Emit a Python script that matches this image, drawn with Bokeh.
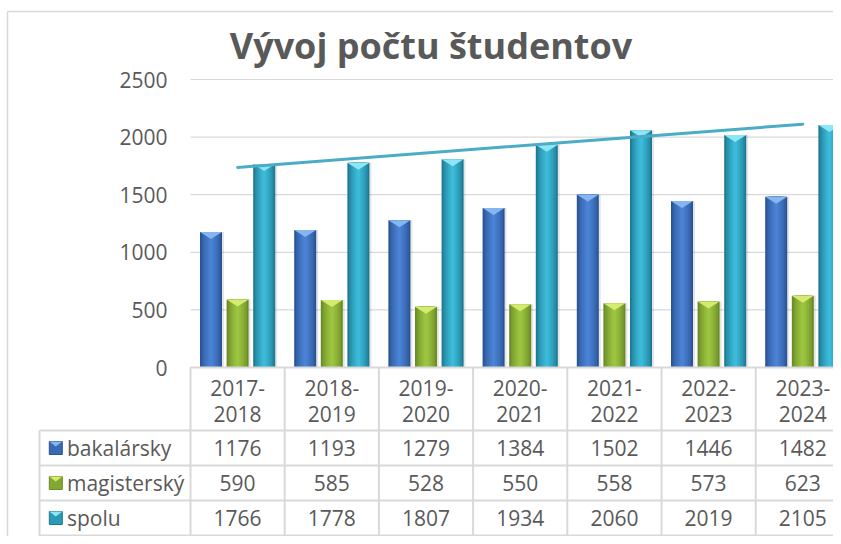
import numpy as np
from bokeh.plotting import figure
from bokeh.models import Range1d
from bokeh.core.properties import value
from bokeh.embed import file_html
from bokeh.resources import INLINE

# ---------------- data ----------------
title_text = "Vývoj počtu študentov"
categories = ["2017-2018", "2018-2019", "2019-2020", "2020-2021",
              "2021-2022", "2022-2023", "2023-2024"]
series_names = ["bakalársky", "magisterský", "spolu"]
bakalarsky = [1176, 1193, 1279, 1384, 1502, 1446, 1482]
magistersky = [590, 585, 528, 550, 558, 573, 623]
spolu = [1766, 1778, 1807, 1934, 2060, 2019, 2105]
y_ticks = [0, 500, 1000, 1500, 2000, 2500]

series_values = [bakalarsky, magistersky, spolu]

# ---------------- styles ----------------
FONT = value("Open Sans")
GREY_TXT = "#595959"
LINE_GREY = "#d9d9d9"
# (edge, center, cap)
palette = [
    ("#2a5394", "#4a82d4", "#86b6ef"),
    ("#6a8a26", "#9cc440", "#d4ea70"),
    ("#1d7892", "#3cbad8", "#8ee6f5"),
]
TREND_COLOR = "#4bacc6"

# ---------------- layout (pixels) ----------------
W, H = 833, 536
CAT_PX = 94.2        # width of one category
X0_PX = 190          # canvas x of the left plot edge (category 0.5)
Y0_PX = 367          # canvas y of value 0
UPP = 2500 / 288     # value units per pixel
BAR_PX = 22
STEP_PX = 26.6

x_start = 0.5 - X0_PX / CAT_PX
x_end = x_start + W / CAT_PX
y_end = Y0_PX * UPP
y_start = -(H - Y0_PX) * UPP

ROW_PX = 35.0        # data table row height
HDR_PX = 63.0        # header row height
ROW0_PX = Y0_PX + HDR_PX + ROW_PX / 2
t_top = -ROW0_PX / ROW_PX
t_bottom = (H - ROW0_PX) / ROW_PX

def px_x(px):
    return x_start + px / CAT_PX

def px_t(py):
    return (py - ROW0_PX) / ROW_PX

p = figure(width=W, height=H,
           x_range=Range1d(x_start, x_end), y_range=Range1d(y_start, y_end),
           output_backend="svg", toolbar_location=None,
           x_axis_location=None, y_axis_location=None,
           min_border=0, min_border_left=0, min_border_right=0,
           min_border_top=0, min_border_bottom=0)
p.grid.visible = False
p.outline_line_color = None
p.background_fill_color = "white"
p.border_fill_color = "white"
p.extra_y_ranges = {"tbl": Range1d(t_bottom, t_top)}

n = len(categories)
xc = np.arange(1, n + 1, dtype=float)
x_right = x_end + 1

# outer chart border
bx = px_x(7)
by = y_end - 11 * UPP
p.segment(x0=[bx], y0=[y_start - 100], x1=[bx], y1=[by],
          line_color=LINE_GREY, line_width=1.5)
p.segment(x0=[bx], y0=[by], x1=[x_right], y1=[by],
          line_color=LINE_GREY, line_width=1.5)

# gridlines
grid_vals = [t for t in y_ticks if t > 0]
p.segment(x0=[0.5] * len(grid_vals), y0=grid_vals,
          x1=[x_right] * len(grid_vals), y1=grid_vals,
          line_color=LINE_GREY, line_width=1.2)

# y tick labels
p.text(x=[0.5] * len(y_ticks), y=y_ticks, text=[str(t) for t in y_ticks],
       x_offset=-23, text_align="right", text_baseline="middle",
       text_font=FONT, text_font_size="21px", text_color=GREY_TXT)

# title
p.text(x=[px_x(430.5)], y=[y_end - 45 * UPP], text=[title_text],
       text_align="center", text_baseline="alphabetic",
       text_font=FONT, text_font_size="36px", text_font_style="bold",
       text_color=GREY_TXT)

def mix(c1, c2, t):
    a = [int(c1[i:i + 2], 16) for i in (1, 3, 5)]
    b = [int(c2[i:i + 2], 16) for i in (1, 3, 5)]
    return "#%02x%02x%02x" % tuple(int(round(a[k] + (b[k] - a[k]) * t)) for k in range(3))

bw = BAR_PX / CAT_PX
step = STEP_PX / CAT_PX
cap_h = 7 * UPP
offsets = [-step, 0.0, step]
layers = 7
for si, (vals, off) in enumerate(zip(series_values, offsets)):
    edge, center, cap = palette[si]
    xs = xc + off
    # faint shadow
    p.vbar(x=xs + 2 / CAT_PX, top=vals, bottom=0, width=bw,
           fill_color="#000000", fill_alpha=0.10, line_color=None)
    for k in range(layers):
        t = k / (layers - 1)
        frac = 1.0 - 0.85 * t
        p.vbar(x=xs, top=vals, bottom=0, width=bw * frac,
               fill_color=mix(edge, center, t ** 0.7), line_color=None)
    # pyramid cap
    cap_xs = [[x - bw / 2, x + bw / 2, x] for x in xs]
    cap_ys = [[v, v, v - cap_h] for v in vals]
    p.patches(xs=cap_xs, ys=cap_ys, fill_color=cap, line_color=None)

# linear trendline for "spolu"
coef = np.polyfit(xc, spolu, 1)
p.line(x=[xc[0], xc[-1]], y=list(np.polyval(coef, [xc[0], xc[-1]])),
       line_color=TREND_COLOR, line_width=3, line_cap="round")

# ---------------- data table ----------------
x_tbl_left = px_x(39)
# category axis line / table top
p.segment(x0=[0.5], y0=[0], x1=[x_right], y1=[0],
          line_color=LINE_GREY, line_width=2)
row_lines = [-0.5, 0.5, 1.5, 2.5]
p.segment(x0=[x_tbl_left] * 4, y0=row_lines, x1=[x_right] * 4, y1=row_lines,
          line_color=LINE_GREY, line_width=2, y_range_name="tbl")
col_lines = list(np.arange(0.5, n + 1.5, 1.0))
hdr_top = px_t(Y0_PX)
p.segment(x0=col_lines, y0=[hdr_top] * len(col_lines),
          x1=col_lines, y1=[t_bottom + 1] * len(col_lines),
          line_color=LINE_GREY, line_width=2, y_range_name="tbl")
p.segment(x0=[x_tbl_left], y0=[-0.5], x1=[x_tbl_left], y1=[t_bottom + 1],
          line_color=LINE_GREY, line_width=2, y_range_name="tbl")

# header (category labels on two lines)
line1 = [c.split("-")[0] + "-" for c in categories]
line2 = [c.split("-")[1] for c in categories]
p.text(x=xc, y=[px_t(387)] * n, text=line1, text_align="center",
       text_baseline="middle", text_font=FONT, text_font_size="21px",
       text_color=GREY_TXT, y_range_name="tbl")
p.text(x=xc, y=[px_t(413)] * n, text=line2, text_align="center",
       text_baseline="middle", text_font=FONT, text_font_size="21px",
       text_color=GREY_TXT, y_range_name="tbl")

# values
for ri, vals in enumerate(series_values):
    p.text(x=xc, y=[ri] * n, text=[str(v) for v in vals], text_align="center",
           text_baseline="middle", text_font=FONT, text_font_size="21px",
           text_color=GREY_TXT, y_range_name="tbl")

# legend keys and names
key_cx = px_x(55.3)
kw = 13 / CAT_PX
kh = 13 / ROW_PX
rows = list(range(len(series_names)))
for ri in rows:
    edge, center, cap = palette[ri]
    p.quad(left=[key_cx - kw / 2], right=[key_cx + kw / 2],
           top=[ri - kh / 2], bottom=[ri + kh / 2],
           fill_color=mix(edge, center, 0.5), line_color=edge, line_width=1,
           y_range_name="tbl")
    p.patches(xs=[[key_cx - kw / 2, key_cx + kw / 2, key_cx]],
              ys=[[ri - kh / 2, ri - kh / 2, ri - kh / 2 + 5 / ROW_PX]],
              fill_color=cap, line_color=None, y_range_name="tbl")
p.text(x=[px_x(66.5)] * len(rows), y=rows, text=series_names,
       text_align="left", text_baseline="middle", text_font=FONT,
       text_font_size="21px", text_color=GREY_TXT, y_range_name="tbl")

open("out.html", "w").write(file_html(p, INLINE))
